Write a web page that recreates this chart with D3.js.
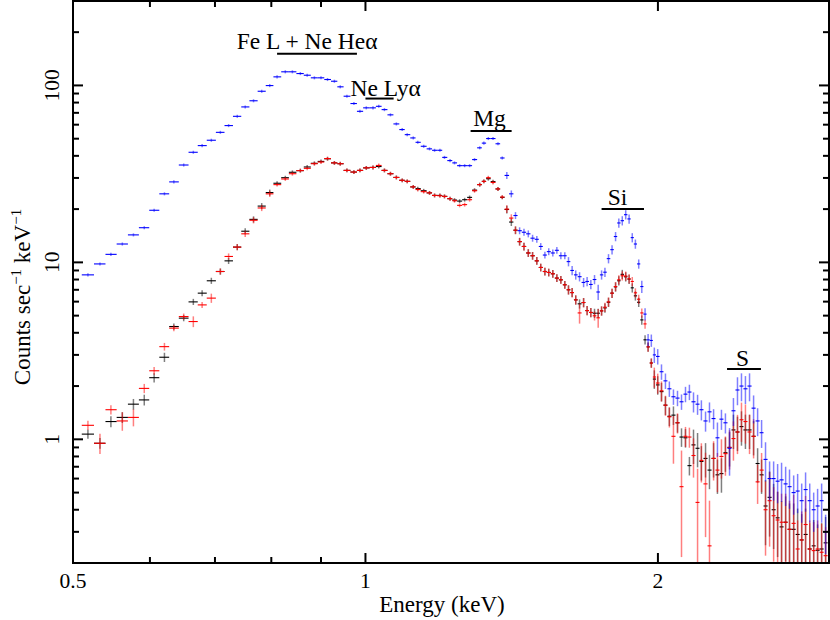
<!DOCTYPE html>
<html><head><meta charset="utf-8">
<script src="https://cdn.jsdelivr.net/npm/d3@7"></script>
<style>
body{margin:0;background:#fff}
text{font-family:"Liberation Serif","Times New Roman",serif;fill:#000}
</style>
</head><body>
<script>
// ---- data (bin centres in keV, counts sec^-1 keV^-1) ----
const energy = [
0.518,0.533,0.547,0.562,0.577,0.592,0.606,0.621,0.635,0.650,
0.665,0.679,0.694,0.709,0.723,0.738,0.752,0.767,0.782,0.797,
0.811,0.827,0.841,0.857,0.871,0.886,0.900,0.914,0.929,0.942,
0.957,0.973,0.987,1.002,1.018,1.032,1.046,1.061,1.076,1.091,
1.104,1.120,1.132,1.148,1.164,1.178,1.193,1.206,1.222,1.235,
1.250,1.265,1.280,1.295,1.311,1.324,1.338,1.353,1.369,1.383,
1.398,1.413,1.427,1.441,1.456,1.471,1.486,1.501,1.515,1.530,
1.544,1.559,1.574,1.589,1.604,1.618,1.632,1.646,1.661,1.677,
1.691,1.706,1.721,1.736,1.750,1.764,1.779,1.794,1.809,1.823,
1.838,1.853,1.868,1.882,1.896,1.911,1.925,1.940,1.954,1.969,
1.983,1.999,2.017,2.036,2.055,2.075,2.095,2.115,2.135,2.155,
2.176,2.197,2.217,2.239,2.260,2.282,2.303,2.325,2.347,2.370,
2.392,2.415,2.438,2.461,2.485,2.509,2.533,2.557,2.581,2.606,
2.631,2.656,2.681,2.707,2.732,2.759,2.785,2.812,2.838,2.866,
2.893,2.920,2.948,2.976];

const blueRate = [
8.5,9.8,11.1,12.7,14.3,15.7,19.7,24.4,28.5,35.5,
41.9,45.7,49.0,54.3,59.3,66.9,75.6,81.9,92.7,99.8,
111.8,119.4,119.4,116.7,114.2,110.4,110.4,108.0,105.6,98.2,
86.9,79.0,71.4,74.7,74.7,76.2,73.0,68.2,60.6,56.3,
52.7,50.5,47.7,45.3,43.8,43.0,43.0,39.2,37.6,36.5,
35.2,35.2,35.2,38.1,44.4,47.2,50.1,50.1,46.8,38.9,
31.0,24.4,18.4,15.1,14.8,14.5,13.7,13.5,12.3,11.0,
11.5,11.3,11.7,10.9,10.9,10.1,9.0,8.5,8.3,7.7,
7.8,7.5,8.0,6.8,8.5,8.8,10.5,11.8,14.0,16.7,
17.2,18.6,17.6,13.8,12.7,9.8,7.3,5.1,3.65,3.62,
3.0,2.94,2.41,2.14,1.93,1.74,1.71,1.63,1.80,1.85,
1.63,1.58,1.47,1.27,1.43,1.31,1.02,1.30,1.24,0.89,
1.45,1.90,2.00,1.93,2.00,1.50,1.27,1.09,0.77,0.60,
0.60,0.58,0.59,0.56,0.54,0.50,0.51,0.45,0.52,0.45,
0.40,0.42,0.45,0.30];

const blackRate = [
1.07,0.95,1.26,1.33,1.58,1.67,2.23,2.91,4.34,4.84,
5.98,6.70,7.87,8.88,10.2,12.2,15.0,17.5,20.8,24.8,
28.0,30.1,32.3,33.0,34.6,36.3,37.2,38.5,36.5,36.1,
33.1,32.4,33.1,34.2,34.4,34.8,33.1,31.7,30.2,29.1,
28.7,26.7,26.1,25.4,24.7,23.9,23.9,23.6,22.9,22.5,
22.2,22.6,23.3,25.6,27.5,28.7,29.7,28.6,26.0,23.3,
19.9,16.9,15.2,13.1,12.3,11.3,10.9,10.2,9.36,8.88,
8.77,8.62,8.15,7.97,7.47,7.00,6.75,6.14,5.83,5.93,
5.34,5.21,5.16,5.16,5.32,5.53,5.95,6.70,7.27,7.87,
8.56,8.29,8.04,7.18,6.47,5.95,4.73,3.65,3.33,2.70,
2.19,2.03,1.86,1.56,1.35,1.37,1.24,1.03,1.02,0.71,
0.93,0.89,0.75,0.78,0.67,0.78,0.63,0.64,0.84,0.90,
1.13,1.10,1.18,1.13,1.13,1.04,0.73,0.63,0.42,0.47,
0.40,0.36,0.32,0.34,0.31,0.31,0.29,0.27,0.29,0.24,
0.25,0.236,0.24,0.26];

const redRate = [
1.20,0.95,1.47,1.27,1.33,1.94,2.44,3.34,4.25,4.94,
4.63,5.75,6.28,8.88,10.8,12.2,14.5,17.3,20.3,24.4,
27.5,29.6,31.7,33.0,34.0,36.1,36.9,38.6,36.5,36.1,
33.1,32.4,33.1,34.2,34.4,35.3,33.1,31.7,30.2,29.1,
28.7,26.7,25.8,25.1,24.7,23.9,23.8,23.6,22.9,22.3,
21.0,21.2,22.6,25.4,27.5,28.7,30.1,28.3,26.0,23.4,
20.0,17.8,15.2,13.1,12.3,11.3,10.9,10.2,9.36,8.88,
8.77,8.62,8.15,7.97,7.47,7.00,6.75,6.14,5.18,5.93,
5.34,5.21,4.99,4.86,5.32,5.58,5.98,6.70,7.30,7.97,
8.40,8.37,8.08,7.80,6.73,6.19,5.18,4.49,3.33,2.70,
2.25,2.08,1.88,1.56,1.34,1.04,1.24,0.54,1.04,1.03,
0.81,0.44,0.76,0.56,0.25,0.78,0.67,0.80,0.83,0.90,
1.01,1.10,1.29,1.26,1.10,1.04,0.575,0.67,0.40,0.45,
0.37,0.35,0.34,0.34,0.31,0.335,0.24,0.27,0.33,0.24,
0.235,0.24,0.23,0.22];

// relative 1-sigma errors
const blueErr = [
.02,.02,.02,.02,.02,.02,.02,.02,.02,.02,
.02,.02,.02,.02,.02,.02,.02,.02,.02,.02,
.02,.02,.02,.02,.02,.02,.02,.02,.02,.02,
.02,.02,.02,.02,.02,.02,.02,.02,.02,.02,
.02,.02,.02,.02,.02,.02,.02,.02,.02,.02,
.02,.02,.02,.02,.02,.02,.02,.02,.02,.02,
.045,.045,.045,.045,.045,.045,.045,.045,.045,.045,
.045,.045,.045,.045,.045,.06,.06,.06,.06,.06,
.06,.06,.06,.10,.06,.06,.06,.06,.06,.06,
.06,.06,.06,.06,.06,.06,.08,.08,.08,.08,
.10,.10,.10,.10,.10,.10,.10,.10,.10,.10,
.13,.13,.13,.13,.13,.13,.22,.13,.13,.30,
.18,.18,.18,.18,.18,.18,.18,.18,.25,.25,
.25,.25,.25,.25,.25,.25,.25,.25,.25,.25,
.25,.25,.25,.25];

const blackErr = [
.06,.07,.07,.07,.07,.07,.06,.06,.04,.04,
.04,.04,.04,.04,.04,.04,.04,.04,.04,.04,
.025,.025,.025,.025,.025,.025,.025,.025,.025,.025,
.025,.025,.025,.025,.025,.025,.025,.025,.025,.025,
.025,.025,.025,.025,.025,.025,.025,.025,.025,.025,
.025,.025,.025,.025,.025,.025,.025,.025,.025,.025,
.05,.05,.05,.05,.05,.05,.05,.05,.05,.05,
.05,.05,.05,.05,.05,.06,.06,.06,.06,.06,
.06,.06,.06,.06,.06,.06,.06,.06,.06,.06,
.06,.06,.06,.06,.06,.06,.06,.06,.06,.06,
.12,.12,.12,.12,.12,.12,.12,.12,.12,.12,
.22,.22,.22,.22,.22,.22,.22,.22,.22,.22,
.22,.22,.22,.22,.22,.22,.22,.22,.40,.40,
.40,.40,.40,.40,.40,.40,.40,.40,.40,.40,
.40,.40,.40,.40];

const redErr = [
.06,.13,.06,.12,.11,.06,.05,.05,.04,.04,
.07,.04,.06,.04,.04,.04,.04,.04,.04,.04,
.025,.025,.025,.025,.025,.025,.025,.025,.025,.025,
.025,.025,.025,.025,.025,.025,.025,.025,.025,.025,
.025,.025,.025,.025,.025,.025,.025,.025,.025,.025,
.025,.025,.025,.025,.025,.025,.025,.025,.025,.025,
.05,.05,.05,.05,.05,.05,.05,.05,.05,.05,
.05,.05,.05,.05,.05,.06,.06,.06,.13,.06,
.06,.06,.06,.12,.06,.06,.06,.06,.06,.06,
.06,.06,.06,.06,.06,.06,.06,.06,.06,.06,
.13,.13,.13,.13,.13,.30,.13,.60,.13,.13,
.25,.55,.25,.50,.80,.25,.25,.25,.25,.25,
.25,.25,.25,.25,.25,.25,.25,.25,.45,.45,
.45,.45,.45,.45,.45,.45,.45,.45,.45,.45,
.45,.45,.45,.45];

const xMajor = [0.5, 1, 2];
const xTickLabels = ["0.5", "1", "2"];
const xMinor = [0.6, 0.7, 0.8, 0.9, 3];
const yMajor = [1, 10, 100];
const yTickLabels = ["1", "10", "100"];
const yMinor = [0.2,0.3,0.4,0.5,0.6,0.7,0.8,0.9, 2,3,4,5,6,7,8,9, 20,30,40,50,60,70,80,90, 200,300];

const annoLabels = ["Fe L + Ne He\u03b1", "Ne Ly\u03b1", "Mg", "Si", "S"];
const annoTextE  = [0.737, 0.965, 1.291, 1.776, 2.407];
const annoTextV  = [159.7, 87.7, 59.3, 21.2, 2.60];
const annoBarLo  = [0.811, 1.000, 1.283, 1.750, 2.356];
const annoBarHi  = [0.980, 1.069, 1.414, 1.935, 2.553];
const annoBarV   = [151, 84.3, 55.2, 20.0, 2.50];

// ---- layout ----
const W = 830, H = 620;
const L = 73, R = 829, T = 1, B = 563;

const x = d3.scaleLog().domain([0.5, 3.0]).range([L, R]);
const y = d3.scaleLog().domain([0.2, 300]).range([B, T]);

const svg = d3.select("body").append("svg").attr("width", W).attr("height", H);

svg.append("defs").append("clipPath").attr("id", "clip")
  .append("rect").attr("x", L).attr("y", T).attr("width", R - L).attr("height", B - T);

const plot = svg.append("g").attr("clip-path", "url(#clip)");

const n = energy.length;
const bins = energy.map((e, i) => ({
  e,
  lo: i === 0 ? e - (energy[1] - e) / 2 : (energy[i - 1] + e) / 2,
  hi: i === n - 1 ? e + (e - energy[i - 1]) / 2 : (e + energy[i + 1]) / 2
}));

function drawSeries(vals, errs, color) {
  const d = bins.map((b, i) => ({...b, v: vals[i], r: errs[i]}));
  const g = plot.append("g");
  g.selectAll("line.v").data(d).join("line").attr("class", "v")
    .attr("x1", p => x(p.e)).attr("x2", p => x(p.e))
    .attr("y1", p => { const lo = p.v * (1 - p.r); return lo > 0.2 ? y(lo) : B + 5; })
    .attr("y2", p => y(p.v * (1 + p.r)))
    .attr("stroke", color).attr("stroke-width", 1.5).attr("stroke-opacity", 0.5);
  g.selectAll("line.h").data(d).join("line").attr("class", "h")
    .attr("x1", p => x(p.lo)).attr("x2", p => x(p.hi))
    .attr("y1", p => y(p.v)).attr("y2", p => y(p.v))
    .attr("stroke", color).attr("stroke-width", 1.1);
}
drawSeries(blackRate, blackErr, "#000000");
drawSeries(redRate, redErr, "#ff0000");
drawSeries(blueRate, blueErr, "#0000ff");

// ---- frame & ticks ----
const ax = svg.append("g").attr("stroke", "#000").attr("stroke-width", 2);
ax.append("rect").attr("x", L).attr("y", T).attr("width", R - L).attr("height", B - T).attr("fill", "none");

function xt(vals, len) {
  ax.selectAll(null).data(vals).join("line")
    .attr("x1", d => x(d)).attr("x2", d => x(d)).attr("y1", B).attr("y2", B - len);
  ax.selectAll(null).data(vals).join("line")
    .attr("x1", d => x(d)).attr("x2", d => x(d)).attr("y1", T).attr("y2", T + len);
}
function yt(vals, len) {
  ax.selectAll(null).data(vals).join("line")
    .attr("x1", L).attr("x2", L + len).attr("y1", d => y(d)).attr("y2", d => y(d));
  ax.selectAll(null).data(vals).join("line")
    .attr("x1", R).attr("x2", R - len).attr("y1", d => y(d)).attr("y2", d => y(d));
}
xt(xMajor, 10); xt(xMinor, 6);
yt(yMajor, 10); yt(yMinor, 6);

svg.append("g").selectAll("text").data(xMajor).join("text")
  .attr("x", d => x(d)).attr("y", 588).attr("text-anchor", "middle")
  .attr("font-size", 21.5).text((d, i) => xTickLabels[i]);

svg.append("g").selectAll("text").data(yMajor).join("text")
  .attr("transform", d => `translate(59,${y(d)}) rotate(-90)`)
  .attr("text-anchor", "middle").attr("font-size", 21.5).text((d, i) => yTickLabels[i]);

// axis titles
svg.append("text").attr("x", 442).attr("y", 612).attr("text-anchor", "middle")
  .attr("font-size", 23).text("Energy (keV)");

const yl = svg.append("text").attr("transform", "translate(30,297) rotate(-90)")
  .attr("text-anchor", "middle").attr("font-size", 23);
yl.append("tspan").text("Counts sec");
yl.append("tspan").attr("font-size", 15).attr("dy", -9).text("\u22121");
yl.append("tspan").attr("dy", 9).text(" keV");
yl.append("tspan").attr("font-size", 15).attr("dy", -9).text("\u22121");

// annotations
const an = svg.append("g");
an.selectAll("text").data(annoLabels).join("text")
  .attr("x", (d, i) => x(annoTextE[i])).attr("y", (d, i) => y(annoTextV[i]))
  .attr("font-size", 23.5).text(d => d);
an.selectAll("line").data(annoLabels).join("line")
  .attr("x1", (d, i) => x(annoBarLo[i])).attr("x2", (d, i) => x(annoBarHi[i]))
  .attr("y1", (d, i) => y(annoBarV[i])).attr("y2", (d, i) => y(annoBarV[i]))
  .attr("stroke", "#000").attr("stroke-width", 2);
</script>
</body></html>
